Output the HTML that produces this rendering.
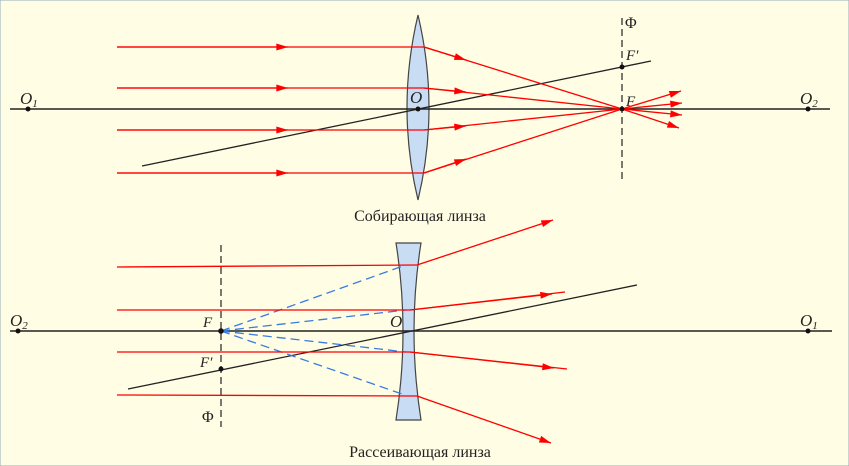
<!DOCTYPE html>
<html><head><meta charset="utf-8"><style>
html,body{margin:0;padding:0;background:#fffde4;}
svg{display:block}
text{font-family:"Liberation Serif",serif;}
</style></head><body>
<svg width="849" height="466" viewBox="0 0 849 466" xmlns="http://www.w3.org/2000/svg">
<defs>
<marker id="a" viewBox="0 0 10 6" refX="10" refY="3" markerWidth="13" markerHeight="7" markerUnits="userSpaceOnUse" orient="auto"><path d="M0,0 L10,3 L0,6 Z" fill="#f00"/></marker>
</defs>
<rect x="0" y="0" width="849" height="466" fill="#fffde4" stroke="#9ab" stroke-width="1"/>
<!-- TOP -->
<path d="M418,15 Q440,108 418,200 Q396,108 418,15 Z" fill="#c8dcf4" stroke="#444" stroke-width="1.2"/>
<line x1="10" y1="109" x2="830" y2="109" stroke="#222" stroke-width="1.5"/>
<line x1="142" y1="166" x2="651" y2="61" stroke="#222" stroke-width="1.3"/>
<line x1="622" y1="18" x2="622" y2="182" stroke="#222" stroke-width="1.2" stroke-dasharray="7,4"/>
<g stroke="#f00" stroke-width="1.3" fill="none">
<line x1="117" y1="47" x2="424" y2="47"/><line x1="117" y1="88" x2="424" y2="88"/>
<line x1="117" y1="130" x2="424" y2="130"/><line x1="117" y1="173" x2="424" y2="173"/>
<line x1="117" y1="47" x2="288" y2="47" marker-end="url(#a)"/>
<line x1="117" y1="88" x2="288" y2="88" marker-end="url(#a)"/>
<line x1="117" y1="130" x2="288" y2="130" marker-end="url(#a)"/>
<line x1="117" y1="173" x2="288" y2="173" marker-end="url(#a)"/>
<line x1="424" y1="47" x2="622" y2="109"/><line x1="424" y1="88" x2="622" y2="109"/>
<line x1="424" y1="130" x2="622" y2="109"/><line x1="424" y1="173" x2="622" y2="109"/>
<line x1="424" y1="47" x2="466" y2="60" marker-end="url(#a)"/>
<line x1="424" y1="88" x2="466" y2="92" marker-end="url(#a)"/>
<line x1="424" y1="130" x2="466" y2="126" marker-end="url(#a)"/>
<line x1="424" y1="173" x2="466" y2="159" marker-end="url(#a)"/>
<line x1="622" y1="109" x2="681" y2="91" marker-end="url(#a)"/>
<line x1="622" y1="109" x2="682" y2="103" marker-end="url(#a)"/>
<line x1="622" y1="109" x2="682" y2="115" marker-end="url(#a)"/>
<line x1="622" y1="109" x2="679" y2="128" marker-end="url(#a)"/>
</g>
<g fill="#111"><circle cx="28" cy="109" r="2.5"/><circle cx="808" cy="109" r="2.5"/><circle cx="418" cy="109" r="2.5"/><circle cx="622" cy="109" r="2.5"/><circle cx="622" cy="67" r="2.5"/></g>
<g font-size="17" font-style="italic" fill="#222">
<text x="20" y="104">O<tspan font-size="11" dy="3">1</tspan></text>
<text x="800" y="104">O<tspan font-size="11" dy="3">2</tspan></text>
<text x="410" y="103">O</text>
<text x="626" y="106" font-size="15">F</text>
<text x="626" y="60" font-size="15">F′</text>
</g>
<text x="625" y="28" font-size="16" fill="#222">Φ</text>
<text x="420" y="221" font-size="16" fill="#222" text-anchor="middle">Собирающая линза</text>
<!-- BOTTOM -->
<path d="M396,243 L421,243 Q407,331 421,420 L396,420 Q410,331 396,243 Z" fill="#c8dcf4" stroke="#444" stroke-width="1.2"/>
<line x1="10" y1="331" x2="832" y2="331" stroke="#222" stroke-width="1.5"/>
<line x1="128" y1="389" x2="637" y2="285" stroke="#222" stroke-width="1.3"/>
<line x1="221" y1="245" x2="221" y2="427" stroke="#222" stroke-width="1.2" stroke-dasharray="7,4"/>
<g stroke="#3a7be0" stroke-width="1.3" stroke-dasharray="9,5">
<line x1="221" y1="331" x2="403" y2="266"/><line x1="221" y1="331" x2="406" y2="310"/>
<line x1="221" y1="331" x2="406" y2="352"/><line x1="221" y1="331" x2="402" y2="394"/>
</g>
<g stroke="#f00" stroke-width="1.3" fill="none">
<line x1="117" y1="267" x2="417" y2="265"/><line x1="117" y1="310" x2="410" y2="310"/>
<line x1="117" y1="352" x2="410" y2="352"/><line x1="117" y1="395" x2="417" y2="396"/>
<line x1="417" y1="265" x2="553" y2="220" marker-end="url(#a)"/>
<line x1="410" y1="310" x2="565" y2="292"/>
<line x1="410" y1="310" x2="552" y2="294" marker-end="url(#a)"/>
<line x1="410" y1="352" x2="567" y2="369"/>
<line x1="410" y1="352" x2="554" y2="368" marker-end="url(#a)"/>
<line x1="417" y1="396" x2="551" y2="443" marker-end="url(#a)"/>
</g>
<g fill="#111"><circle cx="18" cy="331" r="2.5"/><circle cx="808" cy="331" r="2.5"/><circle cx="221" cy="331" r="2.8"/><circle cx="221" cy="369" r="2.5"/></g>
<g font-size="17" font-style="italic" fill="#222">
<text x="10" y="326">O<tspan font-size="11" dy="3">2</tspan></text>
<text x="800" y="326">O<tspan font-size="11" dy="3">1</tspan></text>
<text x="390" y="327">O</text>
<text x="203" y="327" font-size="15">F</text>
<text x="200" y="367" font-size="15">F′</text>
</g>
<text x="202" y="422" font-size="16" fill="#222">Φ</text>
<text x="420" y="457" font-size="16" fill="#222" text-anchor="middle">Рассеивающая линза</text>
</svg>
</body></html>
